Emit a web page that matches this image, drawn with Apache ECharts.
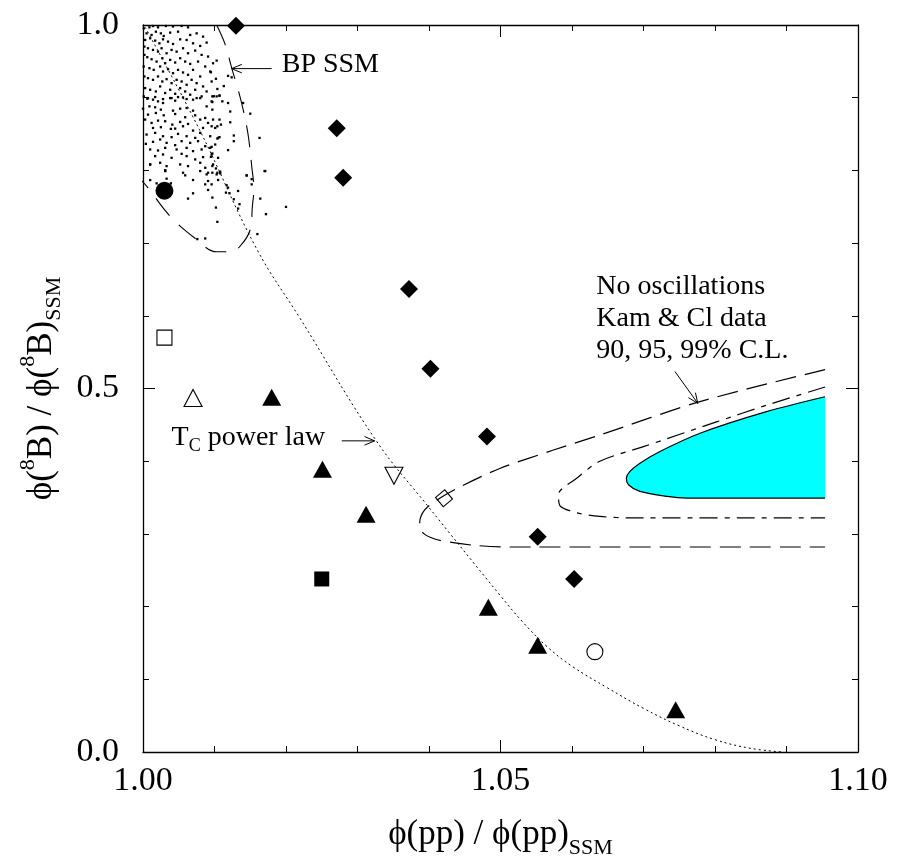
<!DOCTYPE html>
<html><head><meta charset="utf-8">
<script src="https://cdn.jsdelivr.net/npm/echarts@6/dist/echarts.min.js"></script>
<style>html,body{margin:0;padding:0;background:#fff}#c{width:899px;height:864px}</style>
</head><body><div id="c"></div>
<script>
// ---------- data ----------
const xTickLabels = ['1.00', '1.05', '1.10'];
const yTickLabels = ['0.0', '0.5', '1.0'];

const filledDiamonds = [[1.013,0.999],[1.0271,0.858],[1.028,0.790],[1.0372,0.637],[1.0402,0.527],[1.0481,0.434],[1.0552,0.296],[1.0603,0.238]];
const filledTriangles = [[1.018,0.488],[1.0251,0.389],[1.0312,0.327],[1.0483,0.199],[1.0552,0.147],[1.0745,0.058]];
const filledSquare = [[1.025,0.238]];
const filledCircle = [[1.003,0.772]];
const openSquare = [[1.003,0.570]];
const openTriangleUp = [[1.007,0.487]];
const openTriangleDown = [[1.0351,0.380]];
const openDiamond = [[1.0421,0.349]];
const openCircle = [[1.0632,0.138]];

const tcPowerLaw = [[1.0003,0.997],[1.0079,0.856],[1.0159,0.692],[1.022,0.596],[1.0327,0.427],[1.0397,0.340],[1.0499,0.216],[1.053,0.180],[1.0565,0.145],[1.060,0.118],[1.065,0.088],[1.070,0.060],[1.075,0.036],[1.080,0.017],[1.085,0.005],[1.0895,0.0]];

const bpSSM = [[1.0103,1.0],[1.0115,0.973],[1.0124,0.941],[1.0133,0.911],[1.0140,0.884],[1.0147,0.849],[1.0152,0.806],[1.0155,0.774],[1.0153,0.751],[1.0150,0.719],[1.0136,0.696],[1.0122,0.688],[1.0103,0.688],[1.0075,0.705],[1.0038,0.737],[1.0007,0.776],[0.9996,0.788]];

const cl90 = [[1.0954,0.526],[1.0779,0.482],[1.0639,0.436],[1.0573,0.415],[1.0499,0.390],[1.0448,0.367],[1.0415,0.349],[1.0394,0.333],[1.0387,0.315],[1.0392,0.301],[1.0408,0.293],[1.0434,0.288],[1.0467,0.284],[1.0513,0.282],[1.0954,0.282]];
const cl95 = [[1.0954,0.502],[1.0872,0.477],[1.0802,0.454],[1.0700,0.420],[1.0639,0.400],[1.0607,0.377],[1.0581,0.354],[1.0583,0.339],[1.0607,0.329],[1.0639,0.324],[1.0685,0.322],[1.0954,0.322]];
const cl99 = [[1.0954,0.4886],[1.0872,0.4681],[1.0779,0.4384],[1.0723,0.4133],[1.0695,0.3973],[1.0681,0.3859],[1.0676,0.3767],[1.0679,0.3676],[1.0695,0.3584],[1.0733,0.3516],[1.0761,0.3493],[1.0954,0.3493]];

const modelCloud = [
[1.0001,0.9954],[1.0009,0.9968],[1.0014,0.9986],[1.0021,0.9968],[1.0032,0.9986],[1.0042,0.9980],[1.0054,0.9986],[1.0063,0.9968],
[1.0005,0.9885],[1.0012,0.9863],[1.0018,0.9908],[1.0025,0.9885],[1.0029,0.9849],[1.0038,0.9895],[1.0049,0.9908],[1.0066,0.9863],[1.0075,0.9885],[1.0084,0.9840],
[1.0003,0.9794],[1.0010,0.9817],[1.0017,0.9785],[1.0023,0.9748],[1.0028,0.9803],[1.0035,0.9771],[1.0042,0.9739],[1.0052,0.9803],[1.0061,0.9794],[1.0070,0.9748],[1.0080,0.9712],[1.0089,0.9758],
[1.0002,0.9703],[1.0007,0.9680],[1.0014,0.9657],[1.0021,0.9634],[1.0026,0.9680],[1.0033,0.9611],[1.0040,0.9657],[1.0047,0.9634],[1.0056,0.9680],[1.0063,0.9611],[1.0073,0.9648],[1.0082,0.9589],[1.0091,0.9566],
[1.0002,0.9589],[1.0006,0.9557],[1.0012,0.9529],[1.0019,0.9497],[1.0027,0.9543],[1.0031,0.9474],[1.0038,0.9520],[1.0045,0.9484],[1.0052,0.9543],[1.0059,0.9497],[1.0066,0.9465],[1.0077,0.9497],[1.0087,0.9429],[1.0098,0.9474],
[1.0001,0.9429],[1.0009,0.9406],[1.0015,0.9383],[1.0024,0.9429],[1.0028,0.9360],[1.0035,0.9392],[1.0042,0.9337],[1.0049,0.9383],[1.0056,0.9347],[1.0063,0.9315],[1.0070,0.9383],[1.0080,0.9292],[1.0094,0.9360],
[1.0002,0.9292],[1.0007,0.9269],[1.0014,0.9246],[1.0021,0.9292],[1.0027,0.9223],[1.0033,0.9255],[1.0040,0.9200],[1.0047,0.9246],[1.0054,0.9223],[1.0061,0.9178],[1.0068,0.9246],[1.0075,0.9200],[1.0084,0.9155],[1.0096,0.9223],
[1.0003,0.9132],[1.0010,0.9109],[1.0018,0.9086],[1.0024,0.9155],[1.0031,0.9064],[1.0038,0.9109],[1.0045,0.9054],[1.0052,0.9132],[1.0059,0.9086],[1.0066,0.9041],[1.0073,0.9109],[1.0082,0.9018],[1.0089,0.9086],
[1.0001,0.9018],[1.0007,0.8995],[1.0017,0.9009],[1.0028,0.8981],[1.0040,0.8995],[1.0049,0.9009],[1.0061,0.8981],[1.0075,0.8995],
[1.0103,0.951],[1.0095,0.935],[1.0102,0.926],[1.0119,0.930],[1.0124,0.928],[1.0113,0.916],[1.0104,0.912],[1.0107,0.903],[1.0099,0.902],
[1.0006,0.8986],[1.0014,0.8973],[1.0021,0.8950],[1.0028,0.8927],[1.0038,0.8995],[1.0045,0.8959],[1.0056,0.9004],[1.0070,0.8973],[1.0080,0.8995],[1.0096,0.8950],[1.0103,0.9018],
[1.0000,0.8849],[1.0009,0.8881],[1.0017,0.8868],[1.0025,0.8836],[1.0042,0.8822],[1.0052,0.8849],[1.0061,0.8858],[1.0070,0.8822],[1.0089,0.8881],[1.0097,0.8836],
[1.0007,0.8767],[1.0018,0.8790],[1.0029,0.8758],[1.0045,0.8776],[1.0059,0.8731],[1.0073,0.8758],[1.0087,0.8721],
[1.0003,0.8699],[1.0012,0.8653],[1.0021,0.8685],[1.0031,0.8676],[1.0041,0.8630],[1.0052,0.8667],[1.0063,0.8639],[1.0080,0.8699],[1.0091,0.8653],[1.0101,0.8584],
[1.0014,0.8584],[1.0025,0.8594],[1.0039,0.8571],[1.0045,0.8575],[1.0056,0.8607],[1.0070,0.8548],[1.0084,0.8584],[1.0096,0.8607],
[1.0005,0.8493],[1.0017,0.8516],[1.0028,0.8470],[1.0040,0.8457],[1.0049,0.8502],[1.0061,0.8470],[1.0073,0.8447],[1.0080,0.8516],[1.0094,0.8470],[1.0105,0.8447],
[1.0004,0.8365],[1.0014,0.8393],[1.0024,0.8425],[1.0033,0.8379],[1.0045,0.8347],[1.0054,0.8402],[1.0066,0.8379],[1.0077,0.8402],[1.0087,0.8333],[1.0101,0.8356],
[1.0010,0.8288],[1.0021,0.8274],[1.0031,0.8310],[1.0047,0.8288],[1.0061,0.8310],[1.0070,0.8265],[1.0082,0.8288],[1.0094,0.8310],
[1.0017,0.8196],[1.0028,0.8219],[1.0040,0.8173],[1.0054,0.8228],[1.0061,0.8196],[1.0073,0.8151],[1.0084,0.8183],[1.0096,0.8219],[1.0105,0.8173],
[1.0010,0.8082],[1.0024,0.8105],[1.0033,0.8059],[1.0052,0.8082],[1.0063,0.8059],[1.0080,0.8105],[1.0087,0.8036],[1.0098,0.8082],
[1.0031,0.8000],[1.0056,0.7968],[1.0080,0.7991],[1.0091,0.7968],
[1.0097,0.9018],[1.0107,0.9027],[1.0097,0.894],[1.0111,0.895],[1.0119,0.8927],[1.0122,0.881],[1.0140,0.8927],[1.0150,0.878],[1.0098,0.8699],[1.0107,0.8699],[1.0104,0.8607],[1.0109,0.863],[1.0122,0.8662],[1.0104,0.8438],[1.0107,0.8457],[1.0127,0.848],[1.0127,0.8402],[1.0163,0.8447],[1.0096,0.8324],[1.0119,0.8279],[1.0097,0.8233],[1.0095,0.8187],[1.0097,0.806],[1.0102,0.8027],[1.0104,0.7968],[1.0108,0.7982],[1.0170,0.7991],
[1.0010,0.7867],[1.0019,0.7822],[1.0031,0.8000],[1.0033,0.7886],[1.0039,0.7822],[1.0059,0.7932],[1.0070,0.7868],[1.0070,0.7685],[1.0063,0.7612],[1.0089,0.7945],[1.0097,0.7968],[1.0103,0.7945],[1.0108,0.7959],[1.0087,0.7808],[1.0091,0.7854],[1.0096,0.7808],[1.0091,0.7731],[1.0105,0.7868],[1.0117,0.7795],[1.0119,0.7763],[1.0116,0.7694],[1.0121,0.7685],[1.0133,0.7717],[1.0097,0.7626],[1.0127,0.7603],[1.0135,0.7535],[1.0133,0.7475],[1.0102,0.7489],[1.0104,0.7292],[1.0145,0.7932],[1.0152,0.7808],[1.0164,0.7612],[1.0171,0.7991],[1.0172,0.7398],[1.0200,0.7498],[1.0160,0.7124],[1.0087,0.7064],[1.0076,0.7055],
[1.0145,0.793],[1.0152,0.788],[1.0010,0.808],[1.0031,0.799]
];

// annotation anchors in data units
const bpLabel = [1.0194, 0.945];
const bpArrow = [[1.0180, 0.940], [1.0124, 0.940]];
const tcLabel = [1.0040, 0.433];
const tcArrow = [[1.0278, 0.428], [1.0324, 0.428]];
const clLabel = [1.0634, 0.6407];
const clArrow = [[1.0744, 0.5233], [1.0776, 0.4795]];

// ---------- chart ----------
const FONT = '"Liberation Serif", "Times New Roman", "DejaVu Serif", serif';
const chart = echarts.init(document.getElementById('c'), null, {renderer: 'canvas'});

function axisBase(pos, showLabels, isX) {
  return {
    type: 'value', position: pos,
    min: isX ? 1.0 : 0, max: isX ? 1.1 : 1.0, interval: isX ? 0.05 : 0.5,
    axisLine: {show: true, onZero: false, lineStyle: {color: '#000', width: 1.3}},
    axisTick: {show: true, inside: true, length: 12, lineStyle: {color: '#000', width: 1}},
    minorTick: {show: true, splitNumber: 5, length: 6, lineStyle: {color: '#000', width: 1}},
    splitLine: {show: false}, minorSplitLine: {show: false},
    axisLabel: {
      show: showLabels, color: '#000', fontFamily: FONT, fontSize: 34,
      margin: isX ? 12 : 24,
      formatter: function (v) {
        const labels = isX ? xTickLabels : yTickLabels;
        const i = Math.round(isX ? (v - 1.0) / 0.05 : v / 0.5);
        return labels[i] || '';
      }
    }
  };
}

const richTitle = {
  m: {fontFamily: FONT, fontSize: 35, lineHeight: 48, color: '#000'},
  sup: {fontFamily: FONT, fontSize: 22, lineHeight: 22, verticalAlign: 'top', color: '#000'},
  sub: {fontFamily: FONT, fontSize: 22, lineHeight: 28, verticalAlign: 'bottom', color: '#000'}
};

const xMain = Object.assign(axisBase('bottom', true, true), {
  name: '{m|ϕ(pp) / ϕ(pp)}{sub|SSM}', nameLocation: 'middle', nameGap: 59,
  nameTextStyle: {rich: richTitle}
});
const xTop = axisBase('top', false, true);
const yMain = Object.assign(axisBase('left', true, false), {
  name: '{m|ϕ(}{sup|8}{m|B) / ϕ(}{sup|8}{m|B)}{sub|SSM}', nameLocation: 'middle', nameGap: 76, nameRotate: 90,
  nameTextStyle: {rich: richTitle}
});
const yRight = axisBase('right', false, false);

function marker(data, symbol, size, filled, extra) {
  return Object.assign({
    type: 'scatter', data: data, symbol: symbol, symbolSize: size, silent: true, z: 5,
    itemStyle: filled ? {color: '#000', opacity: 1} : {color: 'rgba(255,255,255,0)', borderColor: '#000', borderWidth: 1.1, opacity: 1}
  }, extra || {});
}
function curve(data, type, width, smooth) {
  return {type: 'line', data: data, showSymbol: false, symbol: 'none', smooth: smooth, silent: true, clip: true, z: 3,
    lineStyle: {color: '#000', width: width, type: type}};
}

const option = {
  animation: false,
  backgroundColor: '#fff',
  grid: {left: 143, right: 41, top: 25, bottom: 109, containLabel: false},
  xAxis: [xMain, xTop],
  yAxis: [yMain, yRight],
  series: [
    {
      // 99% C.L. region: cyan fill with a solid outline (no outline on the cut right edge)
      type: 'custom', silent: true, clip: true, z: 2,
      data: [cl99[0]],
      renderItem: function (params, api) {
        const pts = cl99.map(p => api.coord(p));
        let x0 = Infinity, y0 = Infinity, x1 = -Infinity, y1 = -Infinity;
        pts.forEach(p => { x0 = Math.min(x0, p[0]); y0 = Math.min(y0, p[1]); x1 = Math.max(x1, p[0]); y1 = Math.max(y1, p[1]); });
        const cons = [[x0, y0], [x1, y1]];
        return {type: 'group', children: [
          {type: 'polygon', shape: {points: pts, smooth: 0.3, smoothConstraint: cons}, style: {fill: '#00ffff', stroke: null}},
          {type: 'polyline', shape: {points: pts, smooth: 0.3, smoothConstraint: cons}, style: {fill: null, stroke: '#000', lineWidth: 1.2}}
        ]};
      }
    },
    curve(cl95, [18, 7, 5, 7], 1.2, 0.3),
    curve(cl90, [21, 9], 1.2, 0.3),
    curve(bpSSM, [22, 13], 1.1, 0.4),
    curve(tcPowerLaw, [2, 3], 1, 0.4),
    {type: 'scatter', data: modelCloud, symbol: 'rect', symbolSize: 2.3, silent: true, z: 4, itemStyle: {color: '#000', opacity: 1}},
    marker(filledDiamonds, 'diamond', [18, 18], true),
    marker(filledTriangles, 'triangle', [19, 17], true),
    marker(filledSquare, 'rect', 15, true),
    marker(filledCircle, 'circle', 18, true),
    marker(openSquare, 'rect', 15, false),
    marker(openTriangleUp, 'triangle', [18, 17], false),
    marker(openTriangleDown, 'triangle', [18, 17], false, {symbolRotate: 180}),
    marker(openDiamond, 'rect', 12, false, {symbolRotate: 40}),
    marker(openCircle, 'circle', 16, false)
  ]
};
chart.setOption(option);

// annotations positioned through the grid's coordinate system
function px(p) { return chart.convertToPixel({gridIndex: 0}, p); }
function arrow(p0, p1) {
  const a = px(p0), b = px(p1);
  const ang = Math.atan2(b[1] - a[1], b[0] - a[0]);
  const L = 11, da = 0.4;
  return [
    {type: 'line', shape: {x1: a[0], y1: a[1], x2: b[0], y2: b[1]}, style: {stroke: '#000', lineWidth: 1}},
    {type: 'polyline', shape: {points: [
      [b[0] - L * Math.cos(ang - da), b[1] - L * Math.sin(ang - da)],
      [b[0], b[1]],
      [b[0] - L * Math.cos(ang + da), b[1] - L * Math.sin(ang + da)]
    ]}, style: {stroke: '#000', lineWidth: 1, fill: null}}
  ];
}
const bp = px(bpLabel), tc = px(tcLabel), cl = px(clLabel);
const graphics = [
  {type: 'text', x: bp[0], y: bp[1], style: {text: 'BP SSM', font: '28px ' + FONT, fill: '#000', verticalAlign: 'middle', align: 'left'}},
  {type: 'text', x: tc[0], y: tc[1], style: {
    text: '{m|T}{s|C}{m| power law}', verticalAlign: 'middle', align: 'left',
    rich: {
      m: {fontFamily: FONT, fontSize: 28, lineHeight: 36, fill: '#000'},
      s: {fontFamily: FONT, fontSize: 18, lineHeight: 22, verticalAlign: 'bottom', fill: '#000'}
    }}},
  {type: 'text', x: cl[0], y: cl[1] - 16, style: {
    text: 'No oscillations\nKam & Cl data\n90, 95, 99% C.L.', font: '28px ' + FONT, lineHeight: 32,
    fill: '#000', verticalAlign: 'top', align: 'left'}}
].concat(arrow(bpArrow[0], bpArrow[1]), arrow(tcArrow[0], tcArrow[1]), arrow(clArrow[0], clArrow[1]));
chart.setOption({graphic: {elements: graphics}});
</script>
</body></html>
